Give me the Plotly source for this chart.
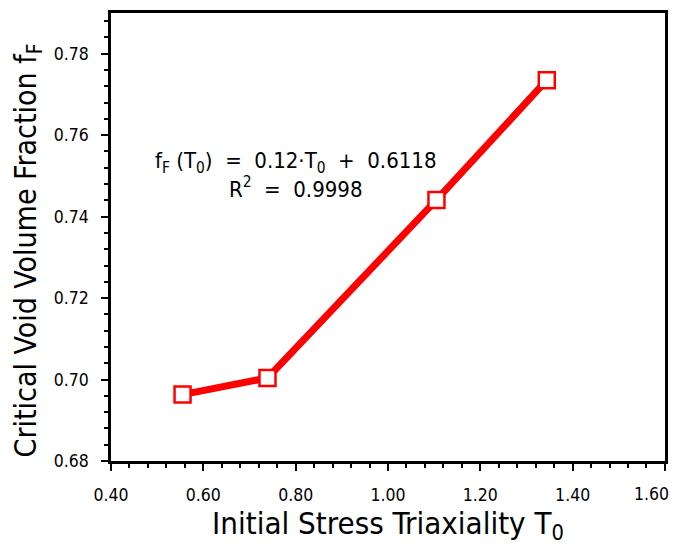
import plotly.graph_objects as go

# Data
triaxiality = [0.555, 0.739, 1.105, 1.344]
void_fraction = [0.6963, 0.7004, 0.7441, 0.7735]

x_ticks = [0.4, 0.6, 0.8, 1.0, 1.2, 1.4, 1.6]
x_ticklabels = ["0.40", "0.60", "0.80", "1.00", "1.20", "1.40", "1.60"]
y_ticks = [0.68, 0.70, 0.72, 0.74, 0.76, 0.78]
y_ticklabels = ["0.68", "0.70", "0.72", "0.74", "0.76", "0.78"]

x_title = "Initial Stress Triaxiality T<sub>0</sub>"
y_title = "Critical Void Volume Fraction f<sub>F</sub>"

FONT = "DejaVu Sans Condensed"
TICKSIZE = 17.5

fig = go.Figure()
fig.add_trace(go.Scatter(
    x=triaxiality, y=void_fraction,
    mode="lines+markers",
    line=dict(color="#ff0000", width=7),
    marker=dict(symbol="square", size=16, color="white",
                line=dict(color="#ff0000", width=2.5)),
    showlegend=False,
))

fig.add_annotation(
    x=0.80, y=0.7503, xref="x", yref="y",
    text=("f<sub>F</sub> (T<sub>0</sub>)&nbsp; =&nbsp; 0.12·T<sub>0</sub>&nbsp; +&nbsp; 0.6118"
          "<br>R<sup>2</sup>&nbsp; =&nbsp; 0.9998"),
    showarrow=False, align="center",
    font=dict(family=FONT, size=22, color="black"),
)

# y-axis title as rotated text
fig.add_annotation(
    x=0, y=0.47, xref="paper", yref="paper",
    xanchor="center", yanchor="middle", xshift=-84,
    text=y_title, textangle=-90, showarrow=False,
    font=dict(family=FONT, size=30, color="black"),
)

# last x tick label, kept inside the visible page edge
fig.add_annotation(
    x=x_ticks[-1], y=0, xref="x", yref="paper",
    xanchor="right", yanchor="middle", xshift=6, yshift=-33,
    text=x_ticklabels[-1], showarrow=False,
    font=dict(family=FONT, size=TICKSIZE, color="black"),
)

axis_common = dict(
    showline=True, linecolor="black", linewidth=2.5, mirror=True,
    showgrid=False, zeroline=False, automargin=False,
    ticks="outside", ticklen=7, tickwidth=2, tickcolor="black",
    tickfont=dict(family=FONT, size=TICKSIZE, color="black"),
)

fig.update_xaxes(
    range=[0.4, 1.6001], tickvals=x_ticks, ticktext=x_ticklabels[:-1] + [""],
    ticklabelstandoff=9,
    minor=dict(dtick=0.04, tick0=0.4, ticks="outside", ticklen=4, tickwidth=2, tickcolor="black"),
    title=dict(text=x_title,
               font=dict(family=FONT, size=31, color="black"), standoff=7),
    **axis_common,
)
fig.update_yaxes(
    range=[0.68, 0.79], tickvals=y_ticks, ticktext=y_ticklabels,
    ticklabelstandoff=9,
    minor=dict(dtick=0.004, tick0=0.68, ticks="outside", ticklen=4, tickwidth=2, tickcolor="black"),
    **axis_common,
)

fig.update_layout(
    width=673, height=539,
    margin=dict(l=103, r=16, t=5, b=86),
    plot_bgcolor="white", paper_bgcolor="white",
)

fig.write_html("out.html")
